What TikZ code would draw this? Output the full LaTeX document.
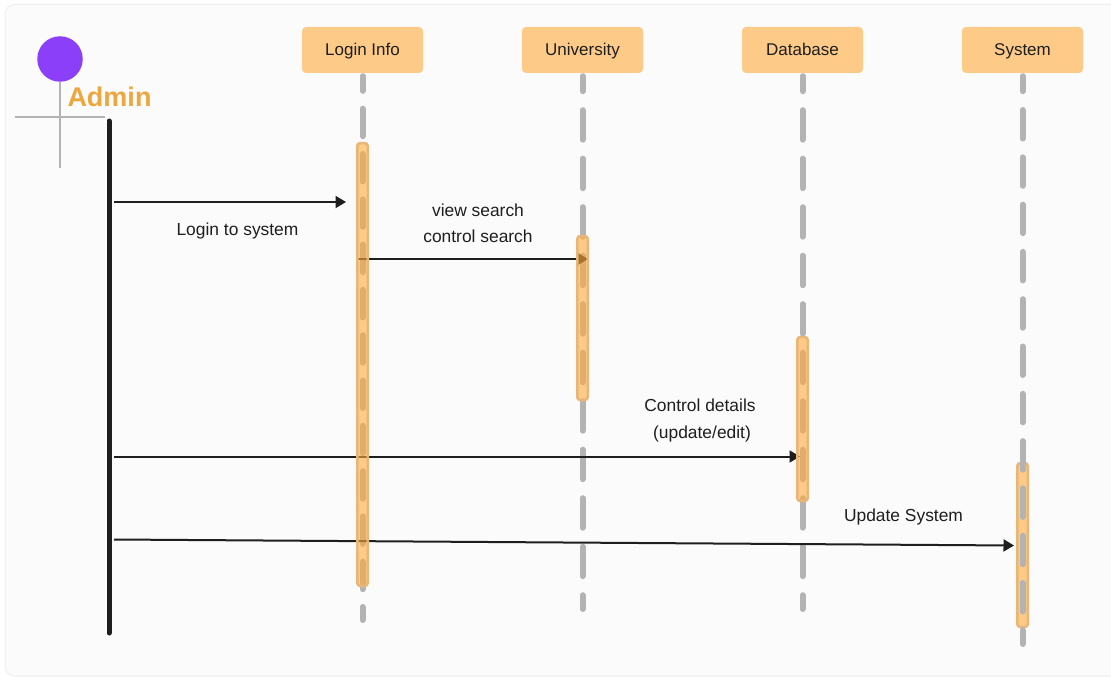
\documentclass[tikz,border=0pt]{standalone}
\usepackage{fontspec}
\setmainfont{Liberation Sans}
\usetikzlibrary{arrows.meta}
\pgfdeclarelayer{bg}
\pgfsetlayers{bg,main}
\definecolor{panelfill}{HTML}{FBFBFB}
\definecolor{panelline}{HTML}{EFEFEF}
\definecolor{boxfill}{HTML}{FDCB87}
\definecolor{barfill}{HTML}{FFAC3A}
\definecolor{barline}{HTML}{E8B676}
\definecolor{lifegray}{HTML}{B3B3B3}
\definecolor{ink}{HTML}{1E1E1E}
\definecolor{adminorange}{HTML}{EDA73F}
\definecolor{actorpurple}{HTML}{8B3FF8}
\tikzset{
  x=1pt,y=-1pt,
  head/.style={draw=none,fill=boxfill,rounded corners=4pt,minimum width=121pt,minimum height=46pt,inner sep=0pt,text=ink,text height=12.5pt,text depth=3.5pt,font=\fontsize{17}{20}\selectfont},
  bar/.style={draw=barline,line width=2.5pt,rounded corners=3pt,fill=barfill,fill opacity=.6,minimum width=10.5pt,inner sep=0pt},
  life/.style={draw=lifegray,line width=6pt,line cap=round},
  msg/.style={draw=ink,line width=2pt,-{Triangle[length=10.5pt,width=12pt]}},
  lbl/.style={text=ink,inner sep=0pt,text height=12.5pt,text depth=3.5pt,font=\fontsize{17.4}{20}\selectfont},
  actorline/.style={draw=lifegray,line width=2pt},
}
\begin{document}
\begin{tikzpicture}
\useasboundingbox (0,0) rectangle (1111,677);
\begin{pgfonlayer}{bg}
  \fill[white] (0,0) rectangle (1111,677);
  \draw[panelline,fill=panelfill,line width=1pt,rounded corners=10pt] (5,4.5) rectangle (1125,676);
\end{pgfonlayer}

% headers
\node[head,text depth=0.5pt] (loginH) at (362.5,50) {Login Info};
\node[head,text depth=0.5pt] (uniH) at (582.5,50) {University};
\node[head,text depth=0.5pt] (dbH) at (802.5,50) {Database};
\node[head,text depth=0.5pt] (sysH) at (1022.5,50) {System};

% activation bars
\node[bar,minimum height=443pt] (loginB) at (362.5,364.5) {};
\node[bar,minimum height=164pt] (uniB) at (582.5,318) {};
\node[bar,minimum height=164pt] (dbB) at (802.5,419) {};
\node[bar,minimum height=164pt] (sysB) at (1022.5,545) {};

% lifeline ends
\coordinate (loginE) at (362.5,620);
\coordinate (uniE) at (582.5,609);
\coordinate (dbE) at (802.5,609);
\coordinate (sysE) at (1022.5,644);

% actor
\node[circle,fill=actorpurple,minimum size=45.5pt,inner sep=0pt] (actor) at (60,59) {};
\coordinate (bodyEnd) at (60,168);
\coordinate (armL) at (15,117);
\coordinate (armR) at (105,117);
\draw[actorline] (actor.south) -- (bodyEnd);
\draw[actorline] (armL) -- (armR);
\node[text=adminorange,inner sep=0pt,font=\fontsize{27}{32}\selectfont\bfseries] (admin) at (109.5,97) {Admin};
\coordinate (adminT) at (109,121);
\coordinate (adminB) at (109,633);
\draw[ink,line width=5pt,line cap=round] (adminT) -- (adminB);

% message ends
\coordinate (m1a) at (114,202);   \coordinate (m1b) at (346,202);
\coordinate (m2a) at (358,259);   \coordinate (m2b) at (588,259);
\coordinate (m3a) at (114,456.5); \coordinate (m3b) at (800,456.5);
\coordinate (m4a) at (114,539.5); \coordinate (m4b) at (1014,545.5);

\begin{pgfonlayer}{bg}
  \draw[life,dash pattern=on 27.5pt off 17.8pt,dash phase=12.8pt] ([yshift=-3pt]loginH.south) -- (loginE);
  \draw[life,dash pattern=on 29.5pt off 19pt,dash phase=14.5pt] ([yshift=-3pt]uniH.south) -- (uniE);
  \draw[life,dash pattern=on 29.5pt off 19pt,dash phase=14.5pt] ([yshift=-3pt]dbH.south) -- (dbE);
  \draw[msg] (m1a) -- (m1b);
  \draw[msg] (m2a) -- (m2b);
  \draw[msg] (m3a) -- (m3b);
  \draw[msg] (m4a) -- (m4b);
\end{pgfonlayer}
\draw[life,dash pattern=on 28.5pt off 18.8pt,dash phase=13.5pt] ([yshift=-3pt]sysH.south) -- (sysE);

% labels
\node[lbl] (t1) at (237.5,231) {Login to system};
\node[lbl] (t2) at (478,211.5) {view search};
\node[lbl] (t3) at (478,238) {control search};
\node[lbl] (t4) at (700,407) {Control details};
\node[lbl] (t5) at (702,433.5) {(update/edit)};
\node[lbl] (t6) at (903.5,517) {Update System};
\end{tikzpicture}
\end{document}
